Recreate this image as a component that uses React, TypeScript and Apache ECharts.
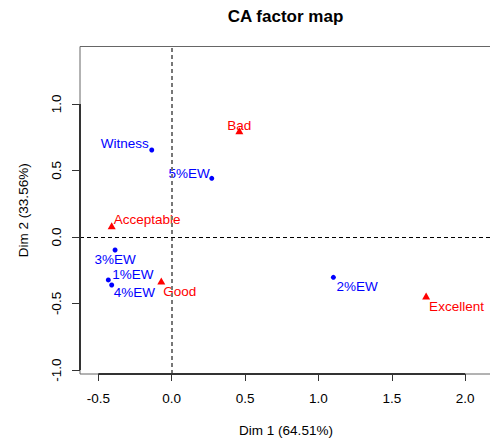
import React, { useEffect, useRef } from "react";
import * as echarts from "echarts";

const colNames = ["Witness", "5%EW", "3%EW", "1%EW", "4%EW", "2%EW"];
const colDim1 = [-0.136, 0.273, -0.386, -0.432, -0.409, 1.102];
const colDim2 = [0.654, 0.441, -0.098, -0.323, -0.361, -0.303];

const rowNames = ["Bad", "Acceptable", "Good", "Excellent"];
const rowDim1 = [0.461, -0.409, -0.071, 1.734];
const rowDim2 = [0.799, 0.085, -0.331, -0.444];

const xTicks = [-0.5, 0.0, 0.5, 1.0, 1.5, 2.0];
const yTicks = [-1.0, -0.5, 0.0, 0.5, 1.0];

const title = "CA factor map";
const xName = "Dim 1 (64.51%)";
const yName = "Dim 2 (33.56%)";

const X_MIN = -0.625;
const X_MAX = 2.183;
const Y_MIN = -1.03;
const Y_MAX = 1.432;

const colLabelPos: Record<string, [string, number, number]> = {
  Witness: ["right", -3, -6],
  "5%EW": ["right", -2, -5],
  "3%EW": ["center", 0, 9],
  "1%EW": ["left", 4, -5],
  "4%EW": ["left", 2, 7],
  "2%EW": ["left", 3, 9],
};
const rowLabelPos: Record<string, [string, number, number]> = {
  Bad: ["center", 0, -5],
  Acceptable: ["left", 2, -6],
  Good: ["left", 2, 10],
  Excellent: ["left", 3, 10],
};

const FONT = "'Liberation Sans', Arial, Helvetica, sans-serif";

export default function App() {
  const ref = useRef<HTMLDivElement>(null);
  useEffect(() => {
    if (!ref.current) return;
    const chart = echarts.init(ref.current, null, { renderer: "svg" });
    const mk = (names: string[], xs: number[], ys: number[], pos: Record<string, [string, number, number]>) =>
      names.map((n, i) => ({
        name: n,
        value: [xs[i], ys[i]],
        label: { align: pos[n][0], offset: [pos[n][1], pos[n][2]] },
      }));
    const axisSeg = { color: "#333", type: "solid", width: 2 };
    chart.setOption({
      animation: false,
      graphic: [
        {
          type: "text",
          x: 285.5,
          y: 16.7,
          style: {
            text: title,
            font: `bold 17px ${FONT}`,
            fill: "#000",
            textAlign: "center",
            textVerticalAlign: "middle",
          },
        },
      ],
      grid: {
        left: 80,
        top: 46.5,
        width: 412,
        height: 327.5,
        outerBoundsMode: "none",
        containLabel: false,
        show: true,
        borderColor: "#666",
        borderWidth: 1,
        backgroundColor: "transparent",
      },
      xAxis: {
        type: "value",
        min: X_MIN,
        max: X_MAX,
        name: xName,
        nameLocation: "middle",
        nameGap: 49,
        nameTextStyle: { fontFamily: FONT, fontSize: 13.5, color: "#000" },
        axisLine: { show: false, onZero: false },
        axisTick: { show: true, length: 7, customValues: xTicks, lineStyle: { color: "#333", width: 1 } },
        axisLabel: {
          customValues: xTicks,
          formatter: (v: number) => v.toFixed(1),
          fontFamily: FONT,
          fontSize: 13.5,
          color: "#000",
          margin: 17,
        },
        splitLine: { show: false },
      },
      yAxis: {
        type: "value",
        min: Y_MIN,
        max: Y_MAX,
        name: yName,
        nameLocation: "middle",
        nameGap: 50,
        nameRotate: 90,
        nameTextStyle: { fontFamily: FONT, fontSize: 13.5, color: "#000" },
        axisLine: { show: false, onZero: false },
        axisTick: { show: true, length: 8, customValues: yTicks, lineStyle: { color: "#333", width: 1 } },
        axisLabel: {
          customValues: yTicks,
          formatter: (v: number) => v.toFixed(1),
          rotate: 90,
          fontFamily: FONT,
          fontSize: 13.5,
          color: "#000",
          margin: 17,
        },
        splitLine: { show: false },
      },
      series: [
        {
          type: "scatter",
          name: "columns",
          symbol: "circle",
          symbolSize: 5,
          itemStyle: { color: "#0000FF", opacity: 1 },
          data: mk(colNames, colDim1, colDim2, colLabelPos),
          label: {
            show: true,
            position: "inside",
            formatter: "{b}",
            color: "#0000FF",
            fontFamily: FONT,
            fontSize: 13.5,
            verticalAlign: "middle",
          },
          markLine: {
            silent: true,
            symbol: "none",
            label: { show: false },
            data: [
              { xAxis: 0, lineStyle: { color: "#777", type: [4, 3], width: 2 } },
              { yAxis: 0, lineStyle: { color: "#000", type: [4, 3], width: 1 } },
              [
                { coord: [xTicks[0], Y_MIN], lineStyle: axisSeg },
                { coord: [xTicks[xTicks.length - 1], Y_MIN] },
              ],
              [
                { coord: [X_MIN, yTicks[0]], lineStyle: axisSeg },
                { coord: [X_MIN, yTicks[yTicks.length - 1]] },
              ],
            ],
          },
        },
        {
          type: "scatter",
          name: "rows",
          symbol: "triangle",
          symbolSize: [8, 7],
          itemStyle: { color: "#FF0000", opacity: 1 },
          data: mk(rowNames, rowDim1, rowDim2, rowLabelPos),
          label: {
            show: true,
            position: "inside",
            formatter: "{b}",
            color: "#FF0000",
            fontFamily: FONT,
            fontSize: 13.5,
            verticalAlign: "middle",
          },
        },
      ],
    });
    return () => chart.dispose();
  }, []);
  return (
    <div
      ref={ref}
      style={{ position: "fixed", left: 0, top: 0, width: 490, height: 441, background: "#fff" }}
    />
  );
}
